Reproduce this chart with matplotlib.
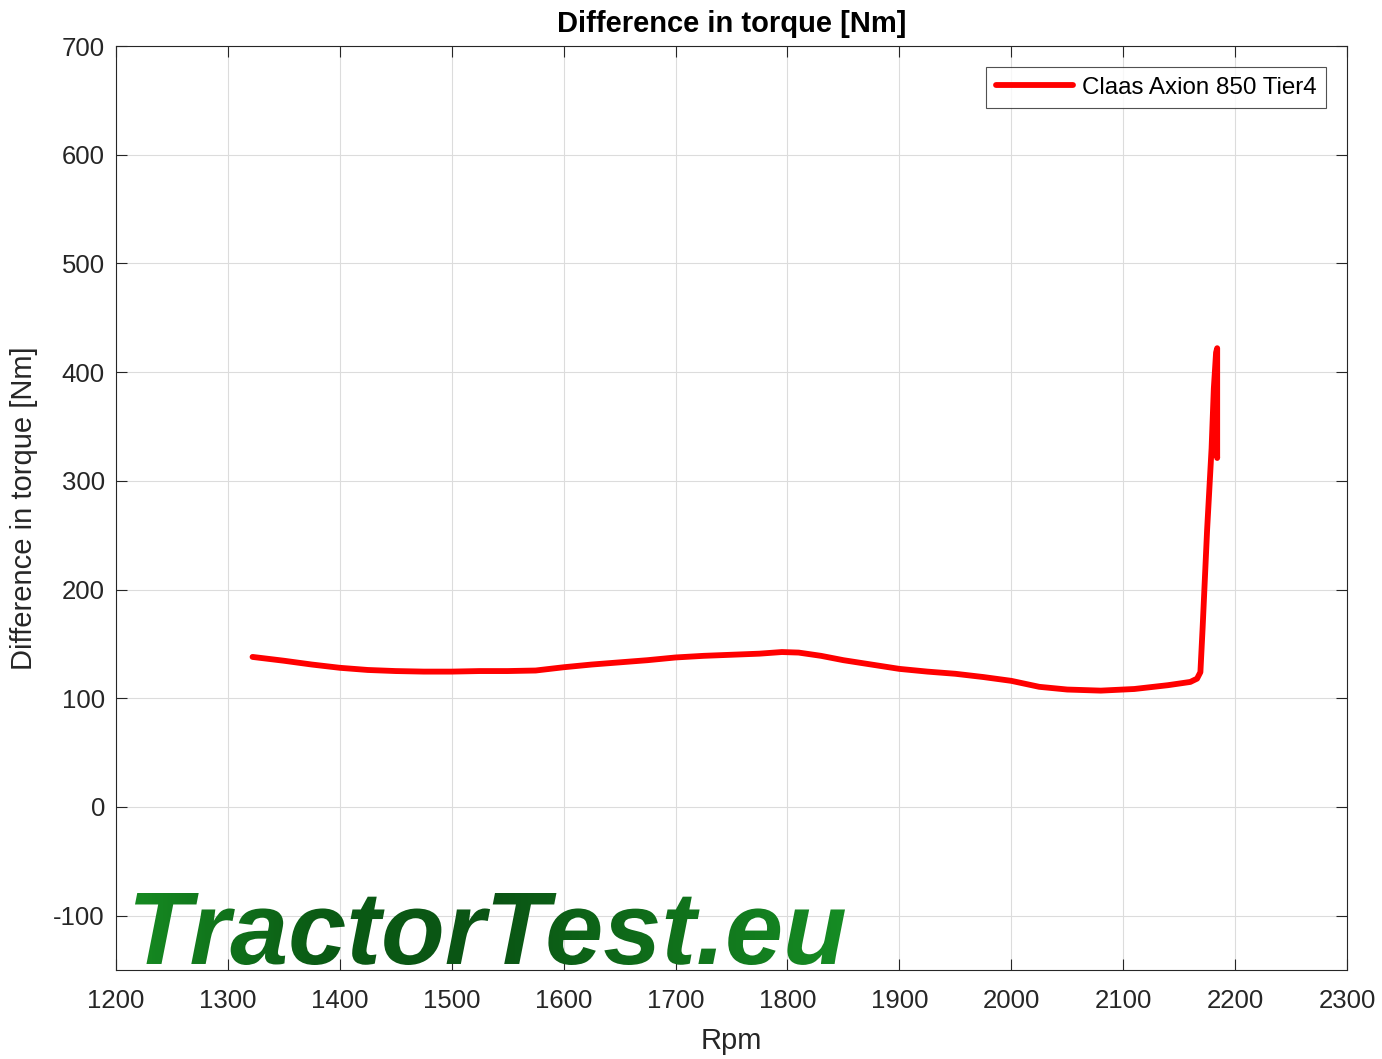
import matplotlib
matplotlib.use('Agg')
import matplotlib.pyplot as plt
import numpy as np
from matplotlib.textpath import TextPath
from matplotlib.patches import PathPatch
from matplotlib.font_manager import FontProperties
from matplotlib.colors import LinearSegmentedColormap
from matplotlib.transforms import Affine2D

plt.rcParams['font.family'] = ['Liberation Sans', 'DejaVu Sans']
plt.rcParams['axes.unicode_minus'] = False

# engine speed [rpm] and torque difference [Nm]
rpm = [1322, 1350, 1375, 1400, 1425, 1450, 1475, 1500, 1525, 1550, 1575, 1600, 1625, 1650,
       1675, 1700, 1725, 1750, 1775, 1795, 1810, 1830, 1850, 1875, 1900, 1925, 1950,
       1975, 2000, 2025, 2050, 2080, 2110, 2140, 2160, 2166, 2169,
       2171, 2175, 2179, 2181, 2183, 2184, 2184, 2184, 2183, 2182]
diff = [138, 134.5, 131, 128, 126, 125, 124.5, 124.5, 125, 125, 125.5, 128.5, 131, 133,
        135, 137.5, 139, 140, 141, 142.5, 142, 139, 135, 131, 127, 124.5, 122.5,
        119.5, 116, 110.5, 108, 107, 108.5, 112, 115, 118, 124,
        165, 255, 330, 385, 418, 422, 380, 321, 335, 390]

series_name = 'Claas Axion 850 Tier4'
watermark = 'TractorTest.eu'

W, H = 1382, 1059
fig = plt.figure(figsize=(W / 100, H / 100), dpi=100)
ax = fig.add_axes([116 / W, 1 - 970 / H, (1347 - 116) / W, (970 - 46) / H])

ax.plot(rpm, diff, color='#ff0000', linewidth=4.2, solid_joinstyle='round',
        solid_capstyle='round', label=series_name)

ax.set_xlim(1200, 2300)
ax.set_ylim(-150, 700)
ax.set_xticks(np.arange(1200, 2301, 100))
ax.set_yticks(np.arange(-100, 701, 100))
ax.grid(True, color='#dcdcdc', linewidth=0.8)
ax.set_axisbelow(True)
ax.tick_params(direction='in', top=True, right=True, length=8, labelsize=18.5,
               colors='#262626', width=0.8)
ax.tick_params(axis='x', pad=14)
ax.tick_params(axis='y', pad=8)
for s in ax.spines.values():
    s.set_color('#262626')
    s.set_linewidth(0.8)

ax.set_xlabel('Rpm', fontsize=21, color='#262626', labelpad=10)
ax.set_ylabel('Difference in torque [Nm]', fontsize=21, color='#262626', labelpad=11)
ax.set_title('Difference in torque [Nm]', fontsize=21, fontweight='bold', pad=10)

leg = ax.legend(loc='upper right', fontsize=17.4, frameon=True, fancybox=False,
                borderaxespad=0.87, handlelength=3.2, borderpad=0.4, handletextpad=0.35)
leg.get_frame().set_edgecolor('#262626')
leg.get_frame().set_linewidth(0.8)

# watermark: stretched bold italic text with a green gradient
wax = fig.add_axes([135 / W, 1 - 965 / H, (845 - 135) / W, (965 - 893) / H], zorder=5)
wax.set_xlim(0, 1)
wax.set_ylim(0, 1)
wax.axis('off')
tp = TextPath((0, 0), watermark, size=100,
              prop=FontProperties(family='Liberation Sans', weight='bold', style='italic'))
bb = tp.get_extents()
tp = tp.transformed(Affine2D().translate(-bb.x0, -bb.y0).scale(1 / bb.width, 1 / bb.height))
patch = PathPatch(tp, facecolor='none', edgecolor='none', transform=wax.transData)
wax.add_patch(patch)
cmap = LinearSegmentedColormap.from_list('wm', ['#168a22', '#0b5c15', '#0a5414', '#10701b', '#168c24'])
grad = np.linspace(0, 1, 256).reshape(1, -1)
im = wax.imshow(grad, cmap=cmap, extent=[0, 1, 0, 1], aspect='auto')
im.set_clip_path(patch)

fig.savefig('out.png', dpi=100)
